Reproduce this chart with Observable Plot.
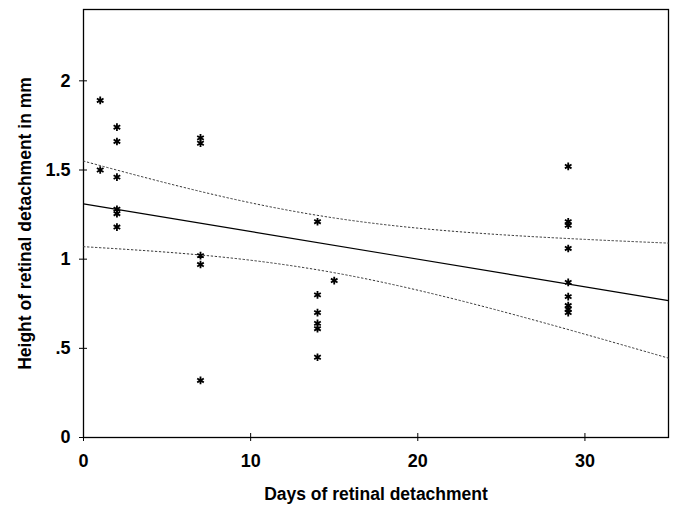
<!DOCTYPE html>
<html>
<head>
<meta charset="utf-8">
<script src="https://cdn.jsdelivr.net/npm/d3@7"></script>
<script src="https://cdn.jsdelivr.net/npm/@observablehq/plot@0.6"></script>
<style>
  html, body { margin: 0; padding: 0; background: #fff; }
  #chart svg { display: block; }
</style>
</head>
<body>
<div id="chart"></div>
<script>
// Observations (days, height in mm)
const days = [1,1,2,2,2,2,2,2,7,7,7,7,7,14,14,14,14,14,14,15,29,29,29,29,29,29,29,29,29];
const heights = [1.89,1.50,1.74,1.66,1.46,1.28,1.255,1.18,1.68,1.65,1.02,0.97,0.32,1.21,0.80,0.70,0.64,0.61,0.45,0.88,1.52,1.21,1.19,1.06,0.87,0.79,0.74,0.72,0.70];

// Regression line
const fitX = [0, 35];
const fitY = [1.31, 0.7675];

// Confidence limits
const ciX = [0, 5, 10, 15, 20, 25, 30, 35];
const ciUpper = [1.550, 1.426, 1.316, 1.231, 1.174, 1.137, 1.111, 1.090];
const ciLower = [1.070, 1.039, 0.994, 0.924, 0.826, 0.708, 0.579, 0.445];

// Ticks
const xTicks = [0, 10, 20, 30];
const yTicks = [0, 0.5, 1, 1.5, 2];
const yTickLabels = ["0", ".5", "1", "1.5", "2"];

const xTitle = "Days of retinal detachment";
const yTitle = "Height of retinal detachment in mm";

const points = days.map((d, i) => ({day: d, height: heights[i]}));
const fit = fitX.map((x, i) => ({x, y: fitY[i]}));
const upper = ciX.map((x, i) => ({x, y: ciUpper[i]}));
const lower = ciX.map((x, i) => ({x, y: ciLower[i]}));

const chart = Plot.plot({
  width: 673,
  height: 511,
  marginLeft: 83,
  marginRight: 5,
  marginTop: 9,
  marginBottom: 74,
  style: {fontFamily: "'Liberation Sans', Arial, sans-serif", fontWeight: "bold", fontSize: "18px", color: "#000", background: "#fff"},
  x: {domain: [0, 35]},
  y: {domain: [0, 2.4]},
  marks: [
    Plot.frame({stroke: "#000", strokeWidth: 1.3}),
    Plot.axisX({ticks: xTicks, tickSize: 4, tickPadding: 13, label: null, fontSize: 18, fontWeight: "bold"}),
    Plot.axisX({ticks: xTicks, tickSize: -4, tickFormat: () => "", label: null}),
    Plot.axisY({ticks: yTicks, tickSize: 4, tickPadding: 9, label: null, fontSize: 18,
      tickFormat: (d) => yTickLabels[yTicks.indexOf(d)]}),
    Plot.axisY({ticks: yTicks, tickSize: -4, tickFormat: () => "", label: null}),
    Plot.line(upper, {x: "x", y: "y", curve: "natural", stroke: "#333", strokeWidth: 1, strokeDasharray: "1.5,2.5"}),
    Plot.line(lower, {x: "x", y: "y", curve: "natural", stroke: "#333", strokeWidth: 1, strokeDasharray: "1.5,2.5"}),
    Plot.line(fit, {x: "x", y: "y", stroke: "#000", strokeWidth: 1.1}),
    Plot.dot(points, {x: "day", y: "height", symbol: "asterisk", r: 3.6, stroke: "#000", strokeWidth: 1.8}),
    Plot.text([xTitle], {frameAnchor: "bottom", dy: 62, fontSize: 17.5, fontWeight: "bold", fill: "#000"}),
    Plot.text([yTitle], {frameAnchor: "left", dx: -58, rotate: -90, textAnchor: "middle", fontSize: 17.5, fontWeight: "bold", fill: "#000"})
  ]
});
document.getElementById("chart").appendChild(chart);
</script>
</body>
</html>
